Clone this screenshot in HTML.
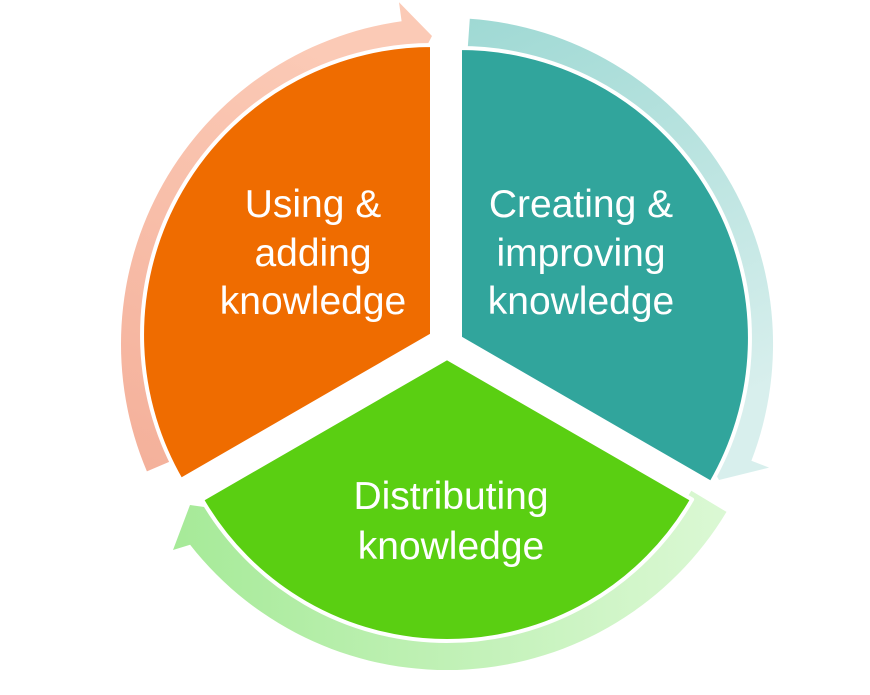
<!DOCTYPE html>
<html><head><meta charset="utf-8"><style>
html,body{margin:0;padding:0;background:#fff;}
svg{display:block}
text{font-family:"Liberation Sans",sans-serif;font-size:39px;fill:#fff;text-anchor:middle}
</style></head><body>
<svg width="870" height="695" viewBox="0 0 870 695" xmlns="http://www.w3.org/2000/svg">
<defs>
<linearGradient id="go" x1="0" y1="1" x2="0.3" y2="0"><stop offset="0" stop-color="#f4b09a"/><stop offset="1" stop-color="#fbcab6"/></linearGradient>
<linearGradient id="gt" x1="0" y1="0" x2="0.3" y2="1"><stop offset="0" stop-color="#9fd9d4"/><stop offset="1" stop-color="#d8efed"/></linearGradient>
<linearGradient id="gg" x1="0" y1="0.5" x2="1" y2="0.5"><stop offset="0" stop-color="#a6ea98"/><stop offset="1" stop-color="#dbf8d4"/></linearGradient>
</defs>
<!-- arrows -->
<path d="M146.9,471.4 A326 326 0 0 1 401.6,21.2 L399.0,2.3 L432,36 L409.7,78.6 L407.3,61.8 A285 285 0 0 0 184.7,455.3 Z" fill="url(#go)"/>
<path d="M469.8,18.8 A326 326 0 0 1 751.4,460.8 L769.1,467.6 L719,480 L697.2,440.1 L713.1,446.1 A285 285 0 0 0 466.9,59.7 Z" fill="url(#gt)"/>
<path d="M726.5,511.9 A326 326 0 0 1 190.1,544.7 L173,550 L190,505 L240,512 L222.4,519.5 A285 285 0 0 0 691.3,490.8 Z" fill="url(#gg)"/>
<!-- wedges -->
<g stroke="#fff" stroke-width="4" stroke-linejoin="round">
<path d="M432,335 L180.9,480 A290 290 0 0 1 432,45 Z" fill="#ef6c00"/>
<path d="M460,338 L460,48 A290 290 0 0 1 711.1,483 Z" fill="#31a59c"/>
<path d="M447,358 L692.1,499.5 A283 283 0 0 1 201.9,499.5 Z" fill="#5acf12"/>
</g>
<text x="313" y="217">Using &amp;</text>
<text x="313" y="266">adding</text>
<text x="313" y="314">knowledge</text>
<text x="581" y="217">Creating &amp;</text>
<text x="581" y="266">improving</text>
<text x="581" y="314">knowledge</text>
<text x="451" y="509">Distributing</text>
<text x="451" y="559">knowledge</text>
</svg>
</body></html>
